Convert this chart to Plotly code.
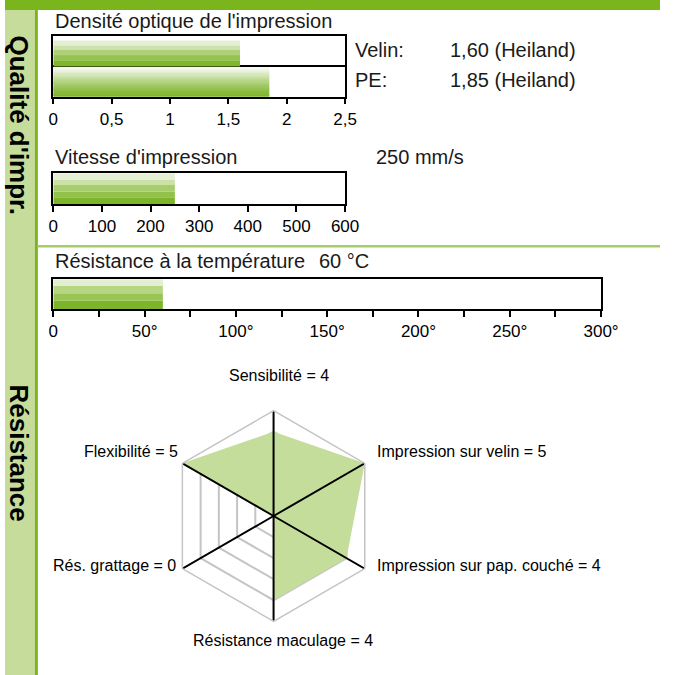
import plotly.graph_objects as go

# ---------------- data ----------------
density_names = ["Velin", "PE"]
density_values = [1.60, 1.85]
density_ticks = [0, 0.5, 1, 1.5, 2, 2.5]
density_ticktext = ["0", "0,5", "1", "1,5", "2", "2,5"]

speed_value = 250
speed_ticks = [0, 100, 200, 300, 400, 500, 600]

temp_value = 60
temp_ticks = [0, 25, 50, 75, 100, 125, 150, 175, 200, 225, 250, 275, 300]
temp_ticktext = ["0", "", "50°", "", "100°", "", "150°", "", "200°", "", "250°", "", "300°"]

radar_names = ["Sensibilité", "Impression sur velin", "Impression sur pap. couché",
               "Résistance maculage", "Rés. grattage", "Flexibilité"]
radar_values = [4, 5, 4, 4, 0, 5]

# ---------------- style ----------------
W, H = 678, 675
FONT = "Liberation Sans, Arial, sans-serif"
DARK = "#7ab51d"
STRIP = "#c6dc9b"
SEP = "#a3cd66"
FILL = "#c5dd9a"

def px(x):
    return x / W

def py(y):
    return 1 - y / H

fig = go.Figure()

# stripe bands (style): (lower, upper) in axis units and colour, bottom -> top
velin_bands = [(1.0, 1.2, "#7fb62c"), (1.2, 1.37, "#96c453"), (1.37, 1.54, "#aed079"),
               (1.54, 1.69, "#cde2aa"), (1.69, 1.85, "#e4efd6")]
speed_bands = [(0, 0.22, "#7db52a"), (0.22, 0.40, "#92c14c"), (0.40, 0.62, "#a8cd6f"),
               (0.62, 0.80, "#cbe2a5"), (0.80, 1.0, "#e5efd6")]
temp_bands = [(0, 0.287, "#7db52a"), (0.287, 0.533, "#98c553"),
              (0.533, 0.78, "#b6d683"), (0.78, 1.0, "#e3eed3")]

def mix(c1, c2, t):
    a = [int(c1[i:i + 2], 16) for i in (1, 3, 5)]
    b = [int(c2[i:i + 2], 16) for i in (1, 3, 5)]
    return "#" + "".join(f"{round(a[k] + (b[k] - a[k]) * t):02x}" for k in range(3))

# PE smooth gradient (white top -> green bottom)
n_grad = 24
pe_top = 0.955
pe_bands = []
for k in range(n_grad):
    lo = pe_top * k / n_grad
    hi = pe_top * (k + 1) / n_grad
    t = (k / (n_grad - 1)) ** 1.3
    pe_bands.append((lo, hi, mix("#7db52a", "#f6f9f0", t)))

def add_bands(value, bands, xa, ya):
    for lo, hi, col in bands:
        fig.add_trace(go.Bar(x=[value], y=[(lo + hi) / 2], width=[hi - lo + 0.004],
                             orientation="h", marker=dict(color=col, line=dict(width=0)),
                             xaxis=xa, yaxis=ya, showlegend=False, hoverinfo="skip"))

add_bands(density_values[0], velin_bands, "x", "y")
add_bands(density_values[1], pe_bands, "x", "y")
add_bands(speed_value, speed_bands, "x2", "y2")
add_bands(temp_value, temp_bands, "x3", "y3")

# ---------------- radar ----------------
radar_labels = [f"{n} = {v}" for n, v in zip(radar_names, radar_values)]
fig.add_trace(go.Scatterpolar(
    r=radar_values + [radar_values[0]], theta=radar_labels + [radar_labels[0]],
    mode="lines", fill="toself", fillcolor=FILL, line=dict(width=0, color=FILL),
    showlegend=False, hoverinfo="skip"))
rmax = 5
for i in range(3):
    fig.add_trace(go.Scatterpolar(
        r=[rmax, 0, rmax], theta=[radar_labels[i], radar_labels[i], radar_labels[i + 3]],
        mode="lines", line=dict(color="black", width=2), showlegend=False, hoverinfo="skip"))

cx, cy, R = 278, 516, 109

axis_common = dict(showline=True, mirror=True, linecolor="black", linewidth=1.5,
                   ticks="outside", ticklen=6, tickwidth=1.5, tickcolor="black",
                   tickfont=dict(family=FONT, size=17, color="black"),
                   zeroline=False, fixedrange=True)
yaxis_common = dict(showline=True, mirror=True, linecolor="black", linewidth=1.5,
                    ticks="", showticklabels=False, zeroline=False, fixedrange=True)

fig.update_layout(
    autosize=True,
    margin=dict(l=0, r=0, t=0, b=0),
    paper_bgcolor="white", plot_bgcolor="white",
    barmode="overlay",
    showlegend=False,
    font=dict(family=FONT, color="black"),
    xaxis=dict(domain=[px(50), px(352)], range=[0, 2.5], tickvals=density_ticks,
               ticktext=density_ticktext, anchor="y", showgrid=False, **axis_common),
    yaxis=dict(domain=[py(96.7), py(36)], range=[0, 2], anchor="x",
               tickvals=[1], showgrid=True, gridcolor="black", gridwidth=1.5, **yaxis_common),
    xaxis2=dict(domain=[px(50), px(352)], range=[0, 600], tickvals=speed_ticks,
                anchor="y2", showgrid=False, **axis_common),
    yaxis2=dict(domain=[py(204), py(173.3)], range=[0, 1], anchor="x2",
                showgrid=False, **yaxis_common),
    xaxis3=dict(domain=[px(50), px(617)], range=[0, 300], tickvals=temp_ticks,
                ticktext=temp_ticktext, anchor="y3", showgrid=False, **axis_common),
    yaxis3=dict(domain=[py(309.3), py(279.3)], range=[0, 1], anchor="x3",
                showgrid=False, **yaxis_common),
    polar=dict(
        domain=dict(x=[px(cx - R), px(cx + R)], y=[py(cy + R), py(cy - R)]),
        gridshape="linear",
        bgcolor="white",
        radialaxis=dict(range=[0, rmax], dtick=1, showticklabels=False, ticks="",
                        showline=False, gridcolor="#c4c4c4", gridwidth=1.5),
        angularaxis=dict(rotation=90, direction="clockwise", type="category",
                         categoryarray=radar_labels, showgrid=False,
                         showline=True, linecolor="#c4c4c4", linewidth=1.5,
                         ticks="", showticklabels=False),
    ),
)

# ---------------- decorations ----------------
shapes = [
    dict(type="rect", xref="paper", yref="paper", x0=0, x1=1, y0=py(10), y1=1,
         fillcolor=DARK, line=dict(width=0), layer="above"),
    dict(type="rect", xref="paper", yref="paper", x0=0, x1=px(31), y0=0, y1=py(10),
         fillcolor=STRIP, line=dict(width=0), layer="below"),
    dict(type="rect", xref="paper", yref="paper", x0=px(31), x1=px(34), y0=0, y1=py(10),
         fillcolor=DARK, line=dict(width=0), layer="above"),
    dict(type="rect", xref="paper", yref="paper", x0=px(34), x1=1, y0=py(247.5), y1=py(245),
         fillcolor=SEP, line=dict(width=0), layer="above"),
]
fig.update_layout(shapes=shapes)

def ann(text, x, y, size=20, xanchor="left", color="#1a1a1a"):
    fig.add_annotation(text=text, x=px(x), y=py(y), xref="paper", yref="paper",
                       showarrow=False, xanchor=xanchor, yanchor="middle",
                       borderpad=0, borderwidth=0,
                       font=dict(family=FONT, size=size, color=color))

def fmt(v):
    return f"{v:.2f}".replace(".", ",")

ann("Densité optique de l'impression", 52, 20.5)
ann(f"{density_names[0]}:", 362, 50)
ann(f"{fmt(density_values[0])} (Heiland)", 461, 50)
ann(f"{density_names[1]}:", 362, 80)
ann(f"{fmt(density_values[1])} (Heiland)", 461, 80)
ann("Vitesse d'impression", 52, 157)
ann(f"{speed_value} mm/s", 384, 157)
ann("Résistance à la température", 52, 261)
ann(f"{temp_value} °C", 325, 261)

# radar labels (text placement)
radar_label_pos = [(284, 375, "center"), (385, 451, "left"), (385, 565, "left"),
                   (288, 640, "center"), (177, 565, "right"), (179.5, 452, "right")]
for lab, (lx, ly, anc) in zip(radar_labels, radar_label_pos):
    ann(lab, lx, ly, size=16, xanchor=anc, color="black")

fig.add_annotation(text="<b>Qualité d'impr.</b>", x=px(14), y=py(125), xref="paper", yref="paper",
                   showarrow=False, textangle=90, xanchor="center", yanchor="middle",
                   font=dict(family=FONT, size=26, color="black"))
fig.add_annotation(text="<b>Résistance</b>", x=px(14), y=py(453), xref="paper", yref="paper",
                   showarrow=False, textangle=90, xanchor="center", yanchor="middle",
                   font=dict(family=FONT, size=26, color="black"))

fig.write_html("out.html", default_width="100vw", default_height="100vh",
               config={"displayModeBar": False},
               post_script="document.body.style.margin='0';document.body.style.overflow='hidden';")
